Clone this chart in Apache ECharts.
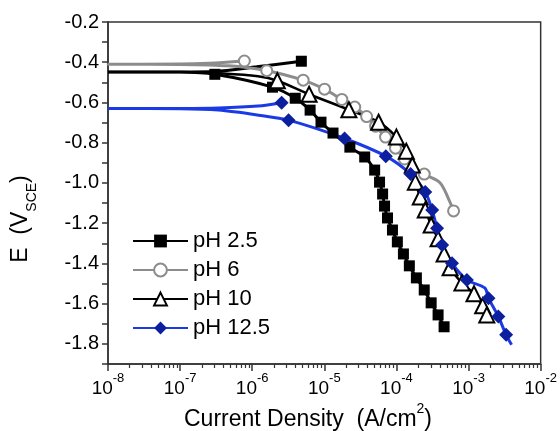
<!DOCTYPE html>
<html><head><meta charset="utf-8">
<script src="https://cdn.jsdelivr.net/npm/echarts@6/dist/echarts.min.js"></script>
<style>html,body{margin:0;padding:0;background:#fff}#c{width:560px;height:431px}</style>
</head><body><div id="c"></div>
<script>
// Each row: [current density (A/cm2), E (V_SCE), marker drawn (1) or curve-only point (0)]
const ph25 = [
  [4.8e-6, -0.395, 1], [1.15e-6, -0.423, 0], [3.0e-7, -0.446, 0], [1e-7, -0.448, 0],
  [1e-8, -0.448, 0], [1e-7, -0.449, 0],
  [3.03e-7, -0.460, 1], [1.91e-6, -0.524, 1], [3.95e-6, -0.579, 1], [6.35e-6, -0.638, 1],
  [8.99e-6, -0.698, 1], [1.32e-5, -0.752, 1], [2.26e-5, -0.822, 1], [3.63e-5, -0.871, 1],
  [4.99e-5, -0.936, 1], [5.83e-5, -0.996, 1], [6.43e-5, -1.055, 1], [6.84e-5, -1.115, 1],
  [7.52e-5, -1.174, 1], [8.81e-5, -1.234, 1], [1.03e-4, -1.293, 1], [1.25e-4, -1.353, 1],
  [1.51e-4, -1.412, 1], [1.89e-4, -1.472, 1], [2.43e-4, -1.532, 1], [3.03e-4, -1.596, 1],
  [3.78e-4, -1.656, 1], [4.58e-4, -1.715, 1]
];
const ph6 = [
  [7.78e-7, -0.394, 1], [2.5e-7, -0.405, 0], [1e-7, -0.409, 0],
  [1e-8, -0.410, 0], [1e-7, -0.411, 0], [4.7e-7, -0.418, 0],
  [1.59e-6, -0.442, 1], [5.09e-6, -0.489, 1], [1.007e-5, -0.534, 1], [1.75e-5, -0.585, 1],
  [2.64e-5, -0.623, 1], [3.86e-5, -0.670, 1], [5.14e-5, -0.718, 1], [7.06e-5, -0.772, 1],
  [9.7e-5, -0.827, 1], [1.29e-4, -0.881, 1], [2.43e-4, -0.956, 1], [4.04e-4, -1.000, 0],
  [5.37e-4, -1.085, 0], [6.2e-4, -1.139, 1]
];
const ph10 = [
  [1e-8, -0.448, 0], [1e-7, -0.449, 0], [4e-7, -0.456, 0], [1.2e-6, -0.470, 0],
  [2.23e-6, -0.492, 1], [6.15e-6, -0.559, 1], [2.19e-5, -0.636, 1], [5.66e-5, -0.698, 1],
  [1.0e-4, -0.772, 1], [1.37e-4, -0.842, 1], [1.66e-4, -0.911, 1], [1.83e-4, -0.996, 1],
  [2.14e-4, -1.070, 1], [2.51e-4, -1.135, 1], [3.03e-4, -1.209, 1], [3.78e-4, -1.278, 1],
  [4.58e-4, -1.353, 1], [5.55e-4, -1.422, 1], [8.09e-4, -1.497, 1], [1.19e-3, -1.551, 1],
  [1.57e-3, -1.611, 1], [1.79e-3, -1.656, 1]
];
const ph125 = [
  [2.56e-6, -0.601, 1], [1.2e-6, -0.618, 0], [3.4e-7, -0.628, 0], [1e-7, -0.630, 0],
  [1e-8, -0.630, 0], [1e-7, -0.631, 0], [3.4e-7, -0.638, 0], [1.22e-6, -0.663, 0],
  [3.19e-6, -0.688, 1], [1.91e-5, -0.779, 1], [7.13e-5, -0.867, 1], [1.57e-4, -0.956, 1],
  [2.51e-4, -1.045, 1], [3.13e-4, -1.135, 1], [3.66e-4, -1.225, 1], [4.30e-4, -1.308, 1],
  [5.90e-4, -1.399, 1], [9.48e-4, -1.482, 1], [1.68e-3, -1.522, 0], [1.89e-3, -1.573, 1],
  [2.59e-3, -1.664, 1], [3.32e-3, -1.755, 1], [3.95e-3, -1.804, 0]
];
const seriesNames = ['pH 2.5', 'pH 6', 'pH 10', 'pH 12.5'];
const xTickExponents = ['-8', '-7', '-6', '-5', '-4', '-3', '-2'];
const yTickLabels = [-1.8, -1.6, -1.4, -1.2, -1.0, -0.8, -0.6, -0.4, -0.2];
const xMinorTicks = [];
for (let e = -8; e < -2; e++) for (let m = 2; m <= 9; m++) xMinorTicks.push(m * Math.pow(10, e));

const FONT = '"Liberation Sans", Arial, sans-serif';
const AX = '#333';

function toData(arr) {
  return arr.map(r => r[2] ? { value: [r[0], r[1]] } : { value: [r[0], r[1]], symbol: 'none' });
}
function mk(name, arr, symbol, size, color, lineColor, lw, empty) {
  return {
    name, type: 'line', data: toData(arr), symbol, symbolSize: size, smooth: 0.3,
    clip: true, z: 3,
    lineStyle: { color: lineColor, width: lw },
    itemStyle: { color, borderColor: color, borderWidth: empty ? 2 : 0 },
    emphasis: { disabled: true }
  };
}

const chart = echarts.init(document.getElementById('c'), null, { renderer: 'canvas' });
chart.setOption({
  animation: false,
  backgroundColor: '#fff',
  textStyle: { fontFamily: FONT },
  grid: { left: 108, right: 16, top: 22, bottom: 67, show: true, borderColor: AX, borderWidth: 1.5, containLabel: false },
  legend: {
    data: seriesNames, orient: 'vertical', left: 127, top: 225, itemWidth: 55, itemHeight: 16, itemGap: 7,
    textStyle: { fontSize: 22, color: '#000', fontFamily: FONT }
  },
  xAxis: [{
    type: 'log', logBase: 10, min: 1e-8, max: 1e-2, interval: 1,
    axisLine: { show: true, onZero: false, lineStyle: { color: AX, width: 1.5 } },
    axisTick: { show: true, inside: false, length: 7, lineStyle: { color: AX, width: 1.5 } },
    splitLine: { show: false },
    axisLabel: {
      margin: 8, color: '#000', fontFamily: FONT,
      formatter: (v) => {
        const e = Math.round(Math.log10(v));
        const lab = xTickExponents[e + 8];
        return '{b|10}{s|' + lab + '}';
      },
      rich: {
        b: { fontSize: 19, lineHeight: 26, verticalAlign: 'bottom', fontFamily: FONT, color: '#000' },
        s: { fontSize: 13, verticalAlign: 'top', fontFamily: FONT, color: '#000' }
      }
    }
  }, {
    type: 'log', logBase: 10, min: 1e-8, max: 1e-2, position: 'bottom',
    axisLine: { show: false }, axisLabel: { show: false }, splitLine: { show: false },
    axisTick: { show: true, inside: false, length: 4, customValues: xMinorTicks, lineStyle: { color: AX, width: 1.2 } }
  }],
  yAxis: {
    type: 'value', min: -1.9, max: -0.2, interval: 0.1,
    axisLine: { show: true, onZero: false, lineStyle: { color: AX, width: 1.5 } },
    axisTick: { show: true, inside: false, length: 6, lineStyle: { color: AX, width: 1.5 } },
    splitLine: { show: false },
    axisLabel: { customValues: yTickLabels, formatter: v => v.toFixed(1), fontSize: 20, color: '#000', margin: 9, fontFamily: FONT }
  },
  graphic: [
    {
      type: 'text', x: 308, y: 417, z: 10,
      style: {
        text: '{m|Current Density  (A/cm}{s|2}{m|)}', align: 'center', verticalAlign: 'middle',
        rich: {
          m: { fontSize: 23, lineHeight: 29, verticalAlign: 'bottom', fontFamily: FONT, fill: '#000' },
          s: { fontSize: 14, verticalAlign: 'top', fontFamily: FONT, fill: '#000' }
        }
      }
    },
    {
      type: 'text', x: 24, y: 219, rotation: Math.PI / 2, z: 10,
      style: {
        text: '{m|E  (V}{s|SCE}{m|)}', align: 'center', verticalAlign: 'middle',
        rich: {
          m: { fontSize: 23, lineHeight: 30, verticalAlign: 'top', fontFamily: FONT, fill: '#000' },
          s: { fontSize: 14, verticalAlign: 'bottom', fontFamily: FONT, fill: '#000' }
        }
      }
    }
  ],
  series: [
    mk('pH 2.5', ph25, 'rect', 11, '#000', '#000', 3, false),
    mk('pH 6', ph6, 'emptyCircle', 11, '#8c8c8c', '#8c8c8c', 3, true),
    mk('pH 10', ph10, 'emptyTriangle', 15, '#000', '#000', 2.5, true),
    mk('pH 12.5', ph125, 'diamond', 14, '#0c1f9e', '#1a3ae6', 3, false)
  ]
});
</script></body></html>
